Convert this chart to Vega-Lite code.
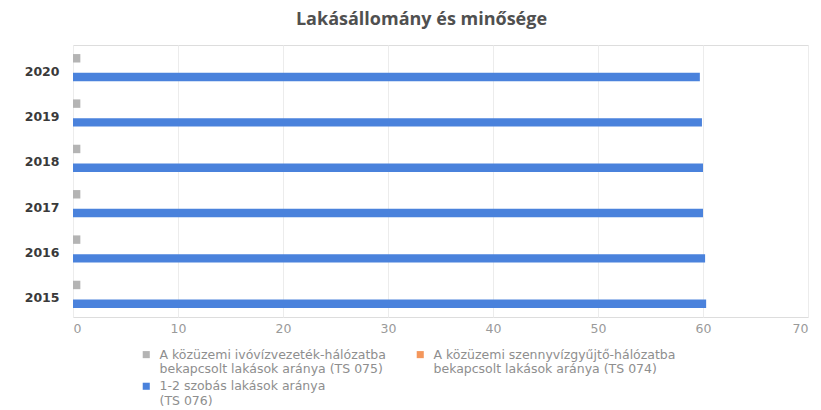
{
  "$schema": "https://vega.github.io/schema/vega-lite/v6.json",
  "autosize": "none",
  "width": 735,
  "height": 272,
  "padding": {"left": 73, "top": 45, "right": 13, "bottom": 93},
  "background": "white",
  "title": {
    "text": "Lakásállomány és minősége",
    "font": "Open Sans",
    "fontSize": 18,
    "fontWeight": "bold",
    "color": "#505050",
    "offset": 16,
    "dx": -19
  },
  "data": {
    "values": [
      {"year": "2015", "series": "A közüzemi ivóvízvezeték-hálózatba bekapcsolt lakások aránya (TS 075)", "value": 0.7},
      {"year": "2016", "series": "A közüzemi ivóvízvezeték-hálózatba bekapcsolt lakások aránya (TS 075)", "value": 0.7},
      {"year": "2017", "series": "A közüzemi ivóvízvezeték-hálózatba bekapcsolt lakások aránya (TS 075)", "value": 0.7},
      {"year": "2018", "series": "A közüzemi ivóvízvezeték-hálózatba bekapcsolt lakások aránya (TS 075)", "value": 0.7},
      {"year": "2019", "series": "A közüzemi ivóvízvezeték-hálózatba bekapcsolt lakások aránya (TS 075)", "value": 0.7},
      {"year": "2020", "series": "A közüzemi ivóvízvezeték-hálózatba bekapcsolt lakások aránya (TS 075)", "value": 0.7},
      {"year": "2015", "series": "A közüzemi szennyvízgyűjtő-hálózatba bekapcsolt lakások aránya (TS 074)", "value": 0},
      {"year": "2016", "series": "A közüzemi szennyvízgyűjtő-hálózatba bekapcsolt lakások aránya (TS 074)", "value": 0},
      {"year": "2017", "series": "A közüzemi szennyvízgyűjtő-hálózatba bekapcsolt lakások aránya (TS 074)", "value": 0},
      {"year": "2018", "series": "A közüzemi szennyvízgyűjtő-hálózatba bekapcsolt lakások aránya (TS 074)", "value": 0},
      {"year": "2019", "series": "A közüzemi szennyvízgyűjtő-hálózatba bekapcsolt lakások aránya (TS 074)", "value": 0},
      {"year": "2020", "series": "A közüzemi szennyvízgyűjtő-hálózatba bekapcsolt lakások aránya (TS 074)", "value": 0},
      {"year": "2015", "series": "1-2 szobás lakások aránya (TS 076)", "value": 60.3},
      {"year": "2016", "series": "1-2 szobás lakások aránya (TS 076)", "value": 60.2},
      {"year": "2017", "series": "1-2 szobás lakások aránya (TS 076)", "value": 60.0},
      {"year": "2018", "series": "1-2 szobás lakások aránya (TS 076)", "value": 60.0},
      {"year": "2019", "series": "1-2 szobás lakások aránya (TS 076)", "value": 59.9},
      {"year": "2020", "series": "1-2 szobás lakások aránya (TS 076)", "value": 59.7}
    ]
  },
  "mark": {"type": "bar"},
  "encoding": {
    "y": {
      "field": "year",
      "type": "nominal",
      "sort": "descending",
      "scale": {"paddingInner": 0.4, "paddingOuter": 0.2},
      "axis": {
        "title": null,
        "domain": false,
        "ticks": false,
        "grid": false,
        "labelPadding": 14,
        "labelOffset": 4,
        "labelFont": "DejaVu Sans",
        "labelFontSize": 12.5,
        "labelColor": "#3a3a3a",
        "labelFontWeight": "bold"
      }
    },
    "yOffset": {
      "field": "series",
      "type": "nominal",
      "sort": null,
      "scale": {"paddingInner": 0.1, "domain": ["A közüzemi ivóvízvezeték-hálózatba bekapcsolt lakások aránya (TS 075)", "A közüzemi szennyvízgyűjtő-hálózatba bekapcsolt lakások aránya (TS 074)", "1-2 szobás lakások aránya (TS 076)"]}
    },
    "x": {
      "field": "value",
      "type": "quantitative",
      "scale": {"domain": [0, 70], "nice": false},
      "axis": {
        "title": null,
        "values": [0, 10, 20, 30, 40, 50, 60, 70],
        "domain": false,
        "ticks": false,
        "gridColor": "#ececec",
        "labelPadding": 5,
        "labelFont": "DejaVu Sans",
        "labelFontSize": 12.5,
        "labelColor": "#9a9a9a"
      }
    },
    "color": {
      "field": "series",
      "type": "nominal",
      "scale": {
        "domain": ["A közüzemi ivóvízvezeték-hálózatba bekapcsolt lakások aránya (TS 075)", "A közüzemi szennyvízgyűjtő-hálózatba bekapcsolt lakások aránya (TS 074)", "1-2 szobás lakások aránya (TS 076)"],
        "range": ["#b4b4b4", "#f4975c", "#4a82dc"]
      },
      "legend": {
        "title": null,
        "orient": "none",
        "legendX": 67,
        "legendY": 303,
        "direction": "horizontal",
        "columns": 2,
        "columnPadding": 28,
        "rowPadding": 4,
        "symbolType": "square",
        "symbolSize": 50,
        "labelOffset": 7,
        "labelFont": "DejaVu Sans",
        "labelFontSize": 12.5,
        "labelLineHeight": 13,
        "labelColor": "#8e8e8e",
        "labelLimit": 400,
        "labelExpr": "indexof(datum.label, 'ivóvíz') >= 0 ? ['A közüzemi ivóvízvezeték-hálózatba', 'bekapcsolt lakások aránya (TS 075)'] : indexof(datum.label, 'szennyvíz') >= 0 ? ['A közüzemi szennyvízgyűjtő-hálózatba', 'bekapcsolt lakások aránya (TS 074)'] : ['1-2 szobás lakások aránya', '(TS 076)']"
      }
    }
  }
}
